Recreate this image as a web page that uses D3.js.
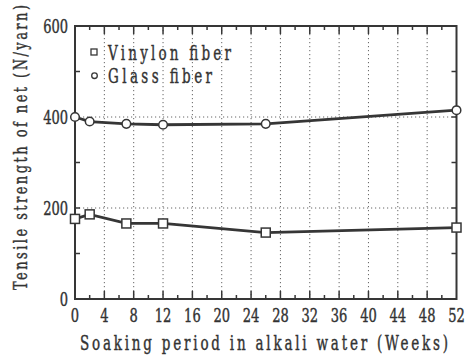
<!DOCTYPE html>
<html><head><meta charset="utf-8">
<script src="https://cdn.jsdelivr.net/npm/d3@7"></script>
<style>body{margin:0;background:#fff}text{font-family:"DejaVu Serif Condensed","DejaVu Serif",serif;font-stretch:condensed;fill:#333;stroke:#333;stroke-width:0.3}</style>
</head><body><svg id="c" width="468" height="355"></svg>
<script>
const weeks = [0, 2, 7, 12, 26, 52];
const vinylon = [176, 186, 166, 166, 146, 157];
const glass = [400, 390, 385, 383, 385, 415];
const xTicks = [0,4,8,12,16,20,24,28,32,36,40,44,48,52];
const yTicks = [0,200,400,600];
const seriesNames = ["Vinylon fiber","Glass fiber"];
const xTitle = "Soaking period in alkali water (Weeks)";
const yTitle = "Tensile strength of net (N/yarn)";

const svg = d3.select("#c");
const L=75,R=456.5,T=26,B=299;
const x = d3.scaleLinear().domain([0,52]).range([L,R]);
const y = d3.scaleLinear().domain([0,600]).range([B,T]);
const ink="#363636";

function txt(px,py,str,size,anchor,len,rot,sy){
  const g=svg.append("g").attr("transform",`translate(${px},${py})`+(rot?` rotate(${rot})`:"")+` scale(1,${sy||1.3})`);
  const t=g.append("text").attr("font-size",size).attr("text-anchor",anchor||"start").text(str);
  if(len) t.attr("textLength",len).attr("lengthAdjust","spacing");
  return t;
}

// grid
svg.append("g").selectAll("line").data(xTicks.filter(d=>d>0&&d<52)).join("line")
 .attr("x1",d=>x(d)).attr("x2",d=>x(d)).attr("y1",T).attr("y2",B)
 .attr("stroke","#666").attr("stroke-width",1).attr("stroke-dasharray","1.2,2.8");
svg.append("g").selectAll("line").data([200,400]).join("line")
 .attr("x1",L).attr("x2",R).attr("y1",d=>y(d)).attr("y2",d=>y(d))
 .attr("stroke","#666").attr("stroke-width",1).attr("stroke-dasharray","1.2,2.8");

// ticks (inward)
const minorX=d3.range(2,52,4), majorX=xTicks.filter(d=>d>0&&d<52);
const tk=svg.append("g").attr("stroke",ink).attr("stroke-width",1.5);
majorX.forEach(d=>{tk.append("line").attr("x1",x(d)).attr("x2",x(d)).attr("y1",B).attr("y2",B-8);
 tk.append("line").attr("x1",x(d)).attr("x2",x(d)).attr("y1",T).attr("y2",T+8);});
minorX.forEach(d=>{tk.append("line").attr("x1",x(d)).attr("x2",x(d)).attr("y1",B).attr("y2",B-4);
 tk.append("line").attr("x1",x(d)).attr("x2",x(d)).attr("y1",T).attr("y2",T+4);});
[100,200,300,400,500].forEach(d=>{tk.append("line").attr("x1",L).attr("x2",L+5).attr("y1",y(d)).attr("y2",y(d));
 tk.append("line").attr("x1",R).attr("x2",R-5).attr("y1",y(d)).attr("y2",y(d));});

// frame
svg.append("rect").attr("x",L).attr("y",T).attr("width",R-L).attr("height",B-T)
 .attr("fill","none").attr("stroke",ink).attr("stroke-width",2);

// tick labels
xTicks.forEach(d=>txt(x(d),322,d,14.5,"middle",null,0,1.3));
yTicks.forEach(d=>txt(68,y(d)+6.5,d,14.5,"end",null,0,1.3));

// axis titles
txt(80,350,xTitle,15,"start",368);
txt(27,290,yTitle,14.5,"start",285,-90);

// lines
const line = d3.line().x((d,i)=>x(weeks[i])).y(d=>y(d));
[vinylon,glass].forEach(s=>svg.append("path").attr("d",line(s)).attr("fill","none")
 .attr("stroke",ink).attr("stroke-width",2.8));

// markers
svg.append("g").selectAll("rect").data(vinylon).join("rect")
 .attr("x",(d,i)=>x(weeks[i])-4.5).attr("y",d=>y(d)-4.5).attr("width",9).attr("height",9)
 .attr("fill","#fff").attr("stroke",ink).attr("stroke-width",1.5);
svg.append("g").selectAll("circle").data(glass).join("circle")
 .attr("cx",(d,i)=>x(weeks[i])).attr("cy",d=>y(d)).attr("r",4.3)
 .attr("fill","#fff").attr("stroke",ink).attr("stroke-width",1.5);

// legend
svg.append("rect").attr("x",91).attr("y",49).attr("width",6).attr("height",6)
 .attr("fill","#fff").attr("stroke",ink).attr("stroke-width",1.3);
svg.append("circle").attr("cx",94.5).attr("cy",75.7).attr("r",2.8)
 .attr("fill","#fff").attr("stroke",ink).attr("stroke-width",1.3);
txt(108,60,seriesNames[0],15,"start",123);
txt(108,83,seriesNames[1],15,"start",104);
</script></body></html>
